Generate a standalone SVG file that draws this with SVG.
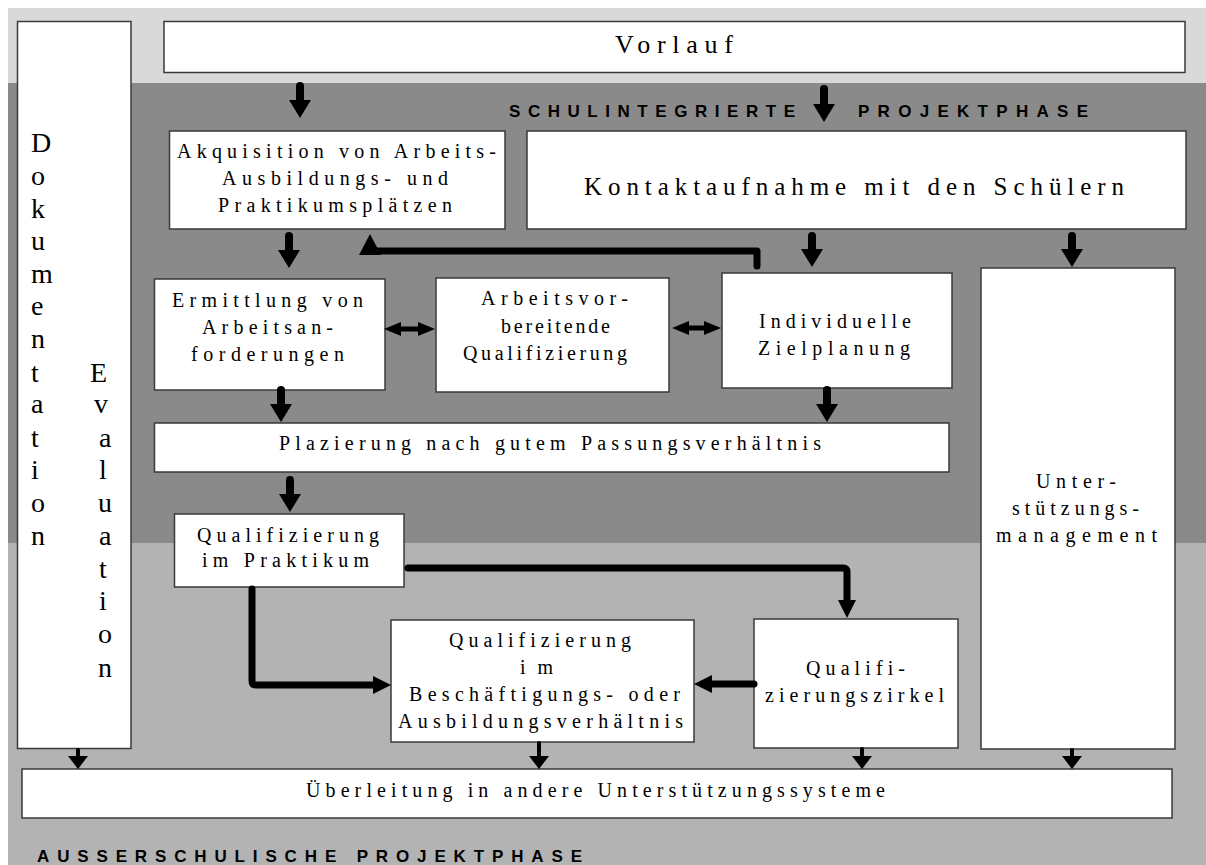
<svg xmlns="http://www.w3.org/2000/svg" width="1206" height="865" viewBox="0 0 1206 865">
<style>
.box{fill:#fff;stroke:#3a3a3a;stroke-width:1.5}
.t{font-family:"Liberation Serif","Times New Roman",serif;font-size:20px;fill:#000}
.big{font-size:26px}
.col{font-family:"Liberation Serif","Times New Roman",serif;font-size:28px;fill:#000}
.ph{font-family:"Liberation Sans",Arial,sans-serif;font-size:17px;font-weight:bold;fill:#000}
.c{fill:none;stroke:#000;stroke-linecap:round;stroke-linejoin:round}
.w8{stroke-width:8}
.w7{stroke-width:7}
.w5{stroke-width:5}
.w4{stroke-width:4}
</style>
<defs>
<marker id="mb" markerUnits="userSpaceOnUse" markerWidth="18" markerHeight="22" refX="0" refY="11" orient="auto"><path d="M0,0 L18,11 L0,22 z" fill="#000"/></marker>
<marker id="mm" markerUnits="userSpaceOnUse" markerWidth="18" markerHeight="18" refX="0" refY="9" orient="auto"><path d="M0,0 L18,9 L0,18 z" fill="#000"/></marker>
<marker id="ms" markerUnits="userSpaceOnUse" markerWidth="13" markerHeight="20" refX="0" refY="10" orient="auto"><path d="M0,0 L13,10 L0,20 z" fill="#000"/></marker>
<marker id="md" markerUnits="userSpaceOnUse" markerWidth="17" markerHeight="14" refX="0" refY="7" orient="auto-start-reverse"><path d="M0,0 L17,7 L0,14 z" fill="#000"/></marker>
</defs>

<g id="background">
<rect x="0" y="0" width="1206" height="865" fill="#fff"/>
<rect x="8" y="8" width="1198" height="75" fill="#d9d9d9"/>
<rect x="8" y="83" width="1198" height="460" fill="#8a8a8a"/>
<rect x="8" y="543" width="1198" height="322" fill="#b3b3b3"/>
<text class="ph" x="509" y="117" textLength="286" lengthAdjust="spacing">SCHULINTEGRIERTE</text>
<text class="ph" x="858" y="117" textLength="230" lengthAdjust="spacing">PROJEKTPHASE</text>
<text class="ph" x="37" y="862" textLength="545" lengthAdjust="spacing">AUSSERSCHULISCHE PROJEKTPHASE</text>
</g>

<g id="dokumentation">
<rect class="box" x="17.5" y="21.5" width="113.5" height="727"/>
<text class="col">
<tspan x="31" y="152">D</tspan><tspan x="31" y="185">o</tspan><tspan x="31" y="218">k</tspan><tspan x="31" y="250">u</tspan><tspan x="31" y="283">m</tspan><tspan x="31" y="315">e</tspan><tspan x="31" y="348">n</tspan><tspan x="31" y="382">t</tspan><tspan x="31" y="413">a</tspan><tspan x="31" y="447">t</tspan><tspan x="31" y="479">i</tspan><tspan x="31" y="512">o</tspan><tspan x="31" y="545">n</tspan>
</text>
<text class="col">
<tspan x="90" y="382">E</tspan><tspan x="94" y="413">v</tspan><tspan x="99" y="447">a</tspan><tspan x="99" y="479">l</tspan><tspan x="98" y="512">u</tspan><tspan x="99" y="545">a</tspan><tspan x="99" y="578">t</tspan><tspan x="99" y="610">i</tspan><tspan x="98" y="643">o</tspan><tspan x="98" y="677">n</tspan>
</text>
</g>

<g id="vorlauf">
<rect class="box" x="164" y="21.5" width="1021" height="51"/>
<text class="t big" x="615" y="53" textLength="118" lengthAdjust="spacing">Vorlauf</text>
</g>

<g id="akquisition">
<rect class="box" x="169.5" y="131" width="335.5" height="98"/>
<text class="t" x="177" y="158" textLength="319" lengthAdjust="spacing">Akquisition von Arbeits-</text>
<text class="t" x="222" y="185" textLength="226" lengthAdjust="spacing">Ausbildungs- und</text>
<text class="t" x="218" y="212" textLength="234" lengthAdjust="spacing">Praktikumsplätzen</text>
</g>

<g id="kontakt">
<rect class="box" x="527" y="131" width="659" height="98"/>
<text class="t" style="font-size:25px" x="584" y="195" textLength="540" lengthAdjust="spacing">Kontaktaufnahme mit den Schülern</text>
</g>

<g id="ermittlung">
<rect class="box" x="154.5" y="279" width="230.5" height="111"/>
<text class="t" x="172" y="307" textLength="191" lengthAdjust="spacing">Ermittlung von</text>
<text class="t" x="202" y="334" textLength="131" lengthAdjust="spacing">Arbeitsan-</text>
<text class="t" x="191" y="361" textLength="153" lengthAdjust="spacing">forderungen</text>
</g>

<g id="arbeitsvorbereitende">
<rect class="box" x="436" y="278" width="233" height="114"/>
<text class="t" x="481" y="305" textLength="147" lengthAdjust="spacing">Arbeitsvor-</text>
<text class="t" x="501" y="333" textLength="109" lengthAdjust="spacing">bereitende</text>
<text class="t" x="463" y="360" textLength="164" lengthAdjust="spacing">Qualifizierung</text>
</g>

<g id="zielplanung">
<rect class="box" x="722" y="273" width="230" height="115"/>
<text class="t" x="759" y="328" textLength="152" lengthAdjust="spacing">Individuelle</text>
<text class="t" x="758" y="355" textLength="152" lengthAdjust="spacing">Zielplanung</text>
</g>

<g id="unterstuetzung">
<rect class="box" x="981" y="268" width="194" height="481"/>
<text class="t" x="1036" y="488" textLength="80" lengthAdjust="spacing">Unter-</text>
<text class="t" x="1012" y="515" textLength="127" lengthAdjust="spacing">stützungs-</text>
<text class="t" x="996" y="542" textLength="161" lengthAdjust="spacing">management</text>
</g>

<g id="plazierung">
<rect class="box" x="154.5" y="423" width="794.5" height="49"/>
<text class="t" x="279" y="450" textLength="542" lengthAdjust="spacing">Plazierung nach gutem Passungsverhältnis</text>
</g>

<g id="praktikum">
<rect class="box" x="174.5" y="514" width="229.5" height="73"/>
<text class="t" x="197" y="542" textLength="182" lengthAdjust="spacing">Qualifizierung</text>
<text class="t" x="202" y="567" textLength="167" lengthAdjust="spacing">im Praktikum</text>
</g>

<g id="beschaeftigung">
<rect class="box" x="391" y="620" width="303" height="122"/>
<text class="t" x="449" y="647" textLength="182" lengthAdjust="spacing">Qualifizierung</text>
<text class="t" x="520" y="674" textLength="33" lengthAdjust="spacing">im</text>
<text class="t" x="409" y="701" textLength="271" lengthAdjust="spacing">Beschäftigungs- oder</text>
<text class="t" x="398" y="728" textLength="285" lengthAdjust="spacing">Ausbildungsverhältnis</text>
</g>

<g id="zirkel">
<rect class="box" x="754" y="619" width="204" height="129"/>
<text class="t" x="806" y="675" textLength="99" lengthAdjust="spacing">Qualifi-</text>
<text class="t" x="765" y="702" textLength="179" lengthAdjust="spacing">zierungszirkel</text>
</g>

<g id="ueberleitung">
<rect class="box" x="22" y="769" width="1150" height="49"/>
<text class="t" x="306" y="797" textLength="579" lengthAdjust="spacing">Überleitung in andere Unterstützungssysteme</text>
</g>

<g id="connectors">
<path class="c w8" d="M300,86 V100" marker-end="url(#mb)"/>
<path class="c w8" d="M824,89 V104" marker-end="url(#mb)"/>
<path class="c w8" d="M289,236 V250" marker-end="url(#mb)"/>
<path class="c w8" d="M812,236 V249" marker-end="url(#mb)"/>
<path class="c w8" d="M1072,236 V249" marker-end="url(#mb)"/>
<path class="c w7" d="M757,266 V251 H372"/>
<polygon points="370,234 381,255 359,255" fill="#000"/>
<path class="c w5" d="M401,329 H418" marker-start="url(#md)" marker-end="url(#md)"/>
<path class="c w5" d="M689,328 H704" marker-start="url(#md)" marker-end="url(#md)"/>
<path class="c w8" d="M281,390 V404" marker-end="url(#mb)"/>
<path class="c w8" d="M827,390 V404" marker-end="url(#mb)"/>
<path class="c w8" d="M290,480 V494" marker-end="url(#mb)"/>
<path class="c w7" d="M408,568 H843 Q847,568 847,572 V600" marker-end="url(#mm)"/>
<path class="c w7" d="M252,589 V681 Q252,685 256,685 H373" marker-end="url(#mm)"/>
<path class="c w7" d="M754,684 H712" marker-end="url(#mm)"/>
<path class="c w4" d="M78,750 V756" marker-end="url(#ms)"/>
<path class="c w4" d="M539,743 V756" marker-end="url(#ms)"/>
<path class="c w4" d="M862,749 V756" marker-end="url(#ms)"/>
<path class="c w4" d="M1072,750 V756" marker-end="url(#ms)"/>
</g>
</svg>
